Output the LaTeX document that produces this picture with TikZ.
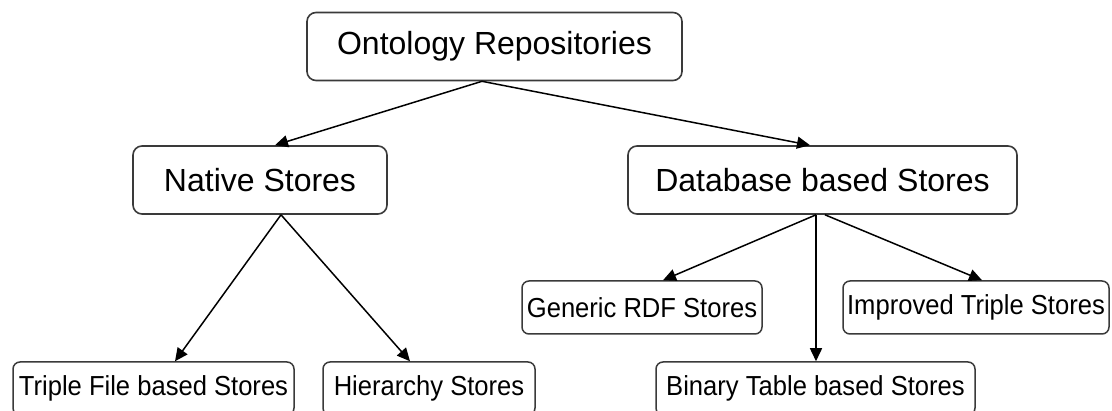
\documentclass[tikz,border=0pt]{standalone}
\usepackage{fontspec}
\setmainfont{Liberation Sans}
\newfontfamily\narrowsans[FakeStretch=0.93]{Liberation Sans}
\usetikzlibrary{arrows.meta}

\definecolor{boxline}{HTML}{3A3A3A}

\tikzset{
  bigbox/.style={draw=boxline, line width=1.6pt, rounded corners=9pt, fill=white,
    minimum height=68pt, inner sep=0pt,
    font=\fontsize{32}{38}\selectfont},
  smallbox/.style={draw=boxline, line width=1.5pt, rounded corners=7pt, fill=white,
    minimum height=53pt, inner sep=0pt,
    font=\narrowsans\fontsize{27.5}{32}\selectfont},
  link/.style={line width=1.5pt, draw=black,
    -{Triangle[length=13pt,width=12pt]}}
}

\begin{document}
\begin{tikzpicture}[x=1pt,y=1pt]
  \useasboundingbox (0,0) rectangle (1112,410);
  \clip (0,0) rectangle (1112,410);
  \fill[white] (0,0) rectangle (1112,410);

  % root
  \node[bigbox, minimum width=375pt] (root) at (494.5,363.5) {Ontology Repositories};

  % second level
  \node[bigbox, minimum width=254pt] (native) at (260,230) {Native Stores};
  \node[bigbox, minimum width=389pt] (dbase) at (822.5,230) {Database based Stores};

  % database based stores
  \node[smallbox, minimum width=240pt] (generic) at (642,102.5) {Generic RDF Stores};
  \node[smallbox, minimum width=266pt] (improved) at (976,102.5) {Improved Triple Stores};
  \node[smallbox, minimum width=319pt] (binary) at (815.5,21.5) {Binary Table based Stores};

  % native stores
  \node[smallbox, minimum width=281pt] (triple) at (153.5,21.5) {Triple File based Stores};
  \node[smallbox, minimum width=212pt] (hier) at (429,21.5) {Hierarchy Stores};

  % connector end points on the box edges
  \coordinate (rootout) at ([xshift=-12.5pt]root.south);
  \coordinate (nativein) at ([xshift=15pt]native.north);
  \coordinate (dbasein) at ([xshift=-12.5pt]dbase.north);
  \coordinate (nativeout) at ([xshift=21pt]native.south);
  \coordinate (dbaseout) at ([xshift=-6.5pt]dbase.south);
  \coordinate (dbaseoutr) at ([xshift=2.5pt]dbase.south);
  \coordinate (triplein) at ([xshift=21.5pt]triple.north);
  \coordinate (hierin) at ([xshift=-19pt]hier.north);
  \coordinate (genericin) at ([xshift=21pt]generic.north);
  \coordinate (improvedin) at ([xshift=6pt]improved.north);

  \draw[link] (rootout) -- (nativein);
  \draw[link] (rootout) -- (dbasein);
  \draw[link] (nativeout) -- (triplein);
  \draw[link] (nativeout) -- (hierin);
  \draw[link] (dbaseout) -- (genericin);
  \draw[link] (dbaseout) -- (dbaseout |- binary.north);
  \draw[link] (dbaseoutr) -- (improvedin);
\end{tikzpicture}
\end{document}
